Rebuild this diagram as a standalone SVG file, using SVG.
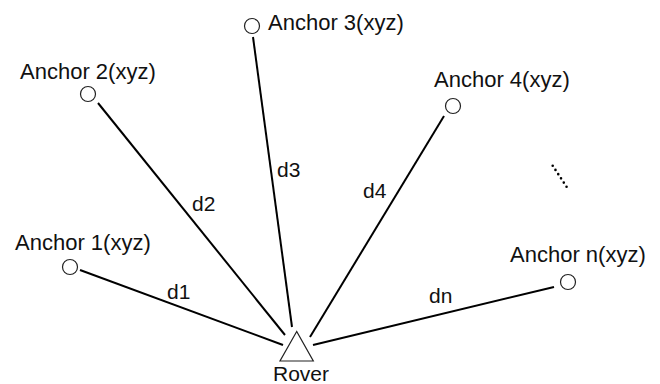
<svg xmlns="http://www.w3.org/2000/svg" width="660" height="384" viewBox="0 0 660 384">
<style>
.lbl{font-family:"Liberation Sans",Arial,sans-serif;font-size:22px;fill:#111}
.dl{font-family:"Liberation Sans",Arial,sans-serif;font-size:21px;fill:#111}
.anc{fill:#fff;stroke:#222;stroke-width:1.2}
.edge{stroke:#000;stroke-width:2;fill:none}
</style>
<rect width="660" height="384" fill="#fff"/>
<g id="connectors">
<line class="edge" x1="80" y1="270" x2="283" y2="345"/>
<line class="edge" x1="98" y1="103" x2="285" y2="335"/>
<line class="edge" x1="253" y1="37" x2="292" y2="327"/>
<line class="edge" x1="444" y1="116" x2="310" y2="337"/>
<line class="edge" x1="554" y1="287" x2="313" y2="345"/>
<text class="dl" x="167" y="299">d1</text>
<text class="dl" x="192" y="211">d2</text>
<text class="dl" x="277" y="177">d3</text>
<text class="dl" x="363" y="198">d4</text>
<text class="dl" x="429" y="303">dn</text>
</g>
<g id="anchor1"><circle class="anc" cx="70" cy="267" r="7.5"/><text class="lbl" x="15" y="250">Anchor 1(xyz)</text></g>
<g id="anchor2"><circle class="anc" cx="88" cy="94" r="7.5"/><text class="lbl" x="20" y="79">Anchor 2(xyz)</text></g>
<g id="anchor3"><circle class="anc" cx="252" cy="26" r="7.5"/><text class="lbl" x="268" y="30">Anchor 3(xyz)</text></g>
<g id="anchor4"><circle class="anc" cx="453" cy="106" r="7.5"/><text class="lbl" x="434" y="87">Anchor 4(xyz)</text></g>
<g id="anchorn"><circle class="anc" cx="568" cy="282" r="7.5"/><text class="lbl" x="510" y="262">Anchor n(xyz)</text></g>
<g id="ellipsis"><line x1="552.7" y1="165.7" x2="569.3" y2="191" stroke="#000" stroke-width="2.6" stroke-linecap="round" stroke-dasharray="0 5.05"/></g>
<g id="rover"><polygon points="296.7,331.5 280,361 313.3,361" fill="#fff" stroke="#222" stroke-width="1.2"/><text class="dl" x="273" y="381">Rover</text></g>
</svg>
